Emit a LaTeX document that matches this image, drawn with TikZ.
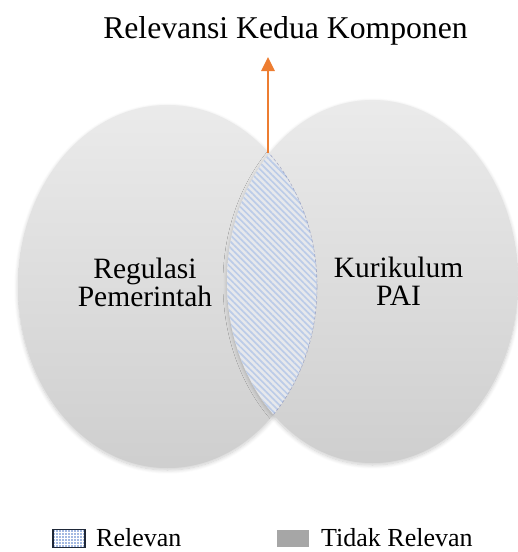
\documentclass[tikz,border=0pt]{standalone}
\usepackage{fontspec}
\setmainfont{Liberation Serif}
\usetikzlibrary{shapes.geometric,shadows.blur,patterns,patterns.meta,arrows.meta}
\definecolor{arroworange}{HTML}{ED7D31}
\definecolor{stripeblue}{HTML}{BCCCE8}
\definecolor{lensbase}{HTML}{E6E8EC}
\definecolor{legblue}{HTML}{4472C4}
\definecolor{legedge}{HTML}{1F2838}
\definecolor{leggray}{HTML}{A6A6A6}
\begin{document}
\begin{tikzpicture}[x=1pt,y=-1pt,
  circ/.style={ellipse, inner sep=0pt, top color=black!8, bottom color=black!19,
    blur shadow={shadow blur steps=10, shadow xshift=0pt, shadow yshift=-2pt, shadow opacity=20, shadow blur radius=4pt}},
  lab/.style={font=\rmfamily\fontsize{29.5}{28}\selectfont, align=center, text=black},
  legtext/.style={font=\rmfamily\fontsize{26}{30}\selectfont, anchor=base west, inner sep=0pt},
  legbox/.style={minimum width=32pt, inner sep=0pt, anchor=north west}]
\useasboundingbox (0,0) rectangle (518,552);
% circles
\node[circ, minimum width=299pt, minimum height=363pt] (left) at (167.5,286.5) {};
\node[circ, minimum width=291pt, minimum height=363pt] (right) at (372.5,281.5) {};
% lens
\begin{scope}
  \clip (167.5,286.5) ellipse [x radius=149.5, y radius=181.5];
  \fill[lensbase] (372.5,281.5) ellipse [x radius=145.5, y radius=181.5];
  \fill[pattern={Lines[angle=-45,distance=4.5pt,line width=1.7pt]}, pattern color=stripeblue]
    (372.5,281.5) ellipse [x radius=145.5, y radius=181.5];
\end{scope}
\begin{scope}
  \clip (372.5,281.5) ellipse [x radius=145.5, y radius=181.5];
  \draw[stripeblue!80!blue!70!black, densely dashed, line width=0.6pt, opacity=0.5]
    (167.5,286.5) ellipse [x radius=149.5, y radius=181.5];
\end{scope}
% labels
\node[lab] (reg) at (145,282) {Regulasi\\Pemerintah};
\node[lab] (kur) at (398.5,281) {Kurikulum\\PAI};
% arrow and title
\coordinate (lenstop) at (268,153);
\coordinate (arrowtip) at (268,57);
\draw[arroworange, line width=2.6pt, -{Triangle[length=14pt,width=13pt]}] (lenstop) -- (arrowtip);
\node[font=\rmfamily\fontsize{31.7}{36}\selectfont, anchor=base, inner sep=0pt] (title) at (285.5,38) {Relevansi Kedua Komponen};
% legend
\node[legbox, minimum height=18pt, draw=legedge, line width=1.5pt,
  fill=white, pattern={Dots[distance=3pt,radius=0.9pt]}, pattern color=legblue] (box1) at (52,528.5) {};
\node[legtext] (t1) at (96,546) {Relevan};
\node[legbox, minimum height=17pt, fill=leggray] (box2) at (277,530) {};
\node[legtext] (t2) at (321,546) {Tidak Relevan};
\end{tikzpicture}
\end{document}
